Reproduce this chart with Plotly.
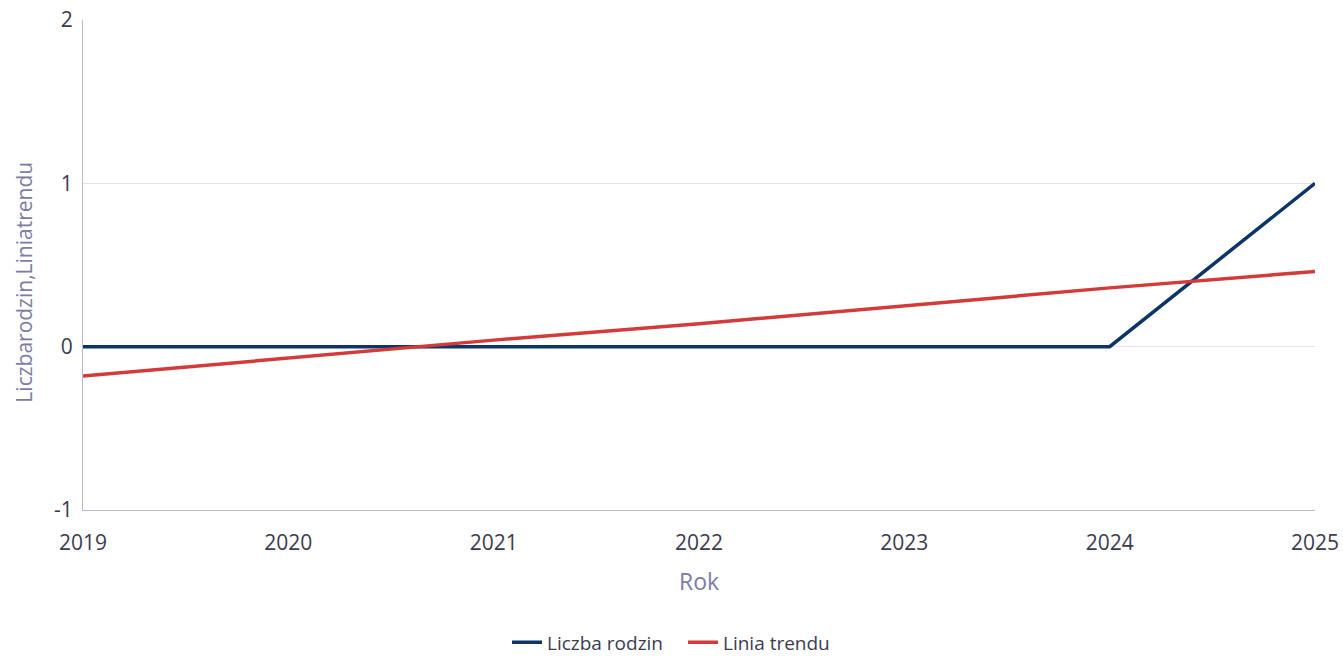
import plotly.graph_objects as go

# Data
years = [2019, 2020, 2021, 2022, 2023, 2024, 2025]
liczba_rodzin = [0, 0, 0, 0, 0, 0, 1]
linia_trendu = [-0.18, -0.07, 0.04, 0.14, 0.25, 0.36, 0.46]
y_ticks = [-1, 0, 1, 2]
y_tick_text = ["-1", "0", "1", "2"]

FONT = "Open Sans"
TICK_COLOR = "#3b3b4f"
TITLE_COLOR = "#7c7ca6"
AXIS_COLOR = "#b9b9d3"

fig = go.Figure()
fig.add_trace(go.Scatter(
    x=years, y=liczba_rodzin, name="Liczba rodzin", mode="lines",
    line=dict(color="#0b3566", width=3.5),
))
fig.add_trace(go.Scatter(
    x=years, y=linia_trendu, name="Linia trendu", mode="lines",
    line=dict(color="#d33a3a", width=3.5),
))

fig.update_layout(
    width=1343, height=656,
    margin=dict(l=83, r=28, t=20, b=146, autoexpand=False),
    paper_bgcolor="white", plot_bgcolor="white",
    font=dict(family=FONT, size=21, color=TICK_COLOR),
    showlegend=True,
    legend=dict(
        orientation="h", x=0.487, xanchor="center", y=-0.27, yanchor="middle",
        font=dict(size=19, color=TICK_COLOR), itemwidth=30,
        entrywidth=131, entrywidthmode="pixels",
    ),
    xaxis=dict(
        range=[2019, 2025], tickmode="array", tickvals=years,
        showgrid=False, showline=True, linecolor=AXIS_COLOR, linewidth=1,
        zeroline=False, ticks="", ticklabelstandoff=14, automargin=False,
        ticklabeloverflow="allow",
        title=dict(text="Rok", font=dict(size=23, color=TITLE_COLOR), standoff=18),
    ),
    yaxis=dict(
        range=[-1, 2], tickmode="array", tickvals=y_ticks, ticktext=y_tick_text,
        showgrid=True, gridcolor="#e2e2ec", gridwidth=1,
        showline=True, linecolor=AXIS_COLOR, linewidth=1,
        zeroline=False, ticks="", ticklabelstandoff=5, automargin=False,
        ticklabeloverflow="allow",
    ),
    annotations=[dict(
        text="Liczbarodzin,Liniatrendu", textangle=-90,
        xref="paper", yref="paper", x=-0.0475, y=0.465,
        xanchor="center", yanchor="middle", showarrow=False,
        font=dict(size=21, color=TITLE_COLOR),
    )],
)

# drop the default 8px page margin so the figure fills the window
fig.write_html(
    "out.html",
    config={"displayModeBar": False},
    post_script="document.body.style.margin = '0px';",
)
